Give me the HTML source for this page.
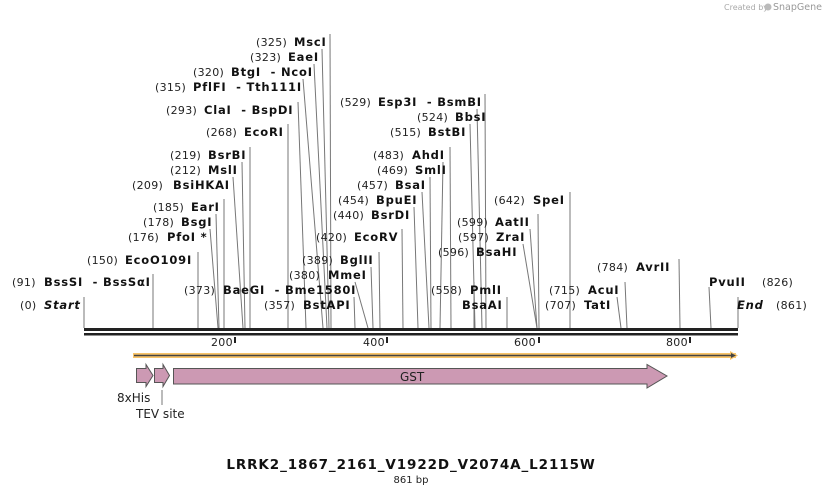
<!DOCTYPE html>
<html><head><meta charset="utf-8"><style>
html,body{margin:0;padding:0;background:#fff;}
svg{display:block;font-family:"DejaVu Sans","Liberation Sans",sans-serif;}
text{white-space:pre;}
.n{font-size:11px;fill:#222;letter-spacing:0.3px;}
.b{font-size:11.5px;font-weight:bold;fill:#111;letter-spacing:0.8px;}
.l{stroke:#777;stroke-width:1;fill:none;}
</style></head><body>
<svg width="822" height="495" viewBox="0 0 822 495" xmlns="http://www.w3.org/2000/svg" xml:space="preserve">
<text x="724" y="10" font-size="8" fill="#aaa">Created by</text>
<text x="773" y="10" font-size="9.5" fill="#999">SnapGene</text>
<circle cx="768" cy="7" r="3.5" fill="#bbb"/>
<g class="l">
<line x1="330" y1="34" x2="331" y2="328"/>
<line x1="322" y1="49" x2="329" y2="328"/>
<line x1="314" y1="64" x2="327" y2="328"/>
<line x1="303" y1="79" x2="323" y2="328"/>
<line x1="298" y1="102" x2="306" y2="328"/>
<line x1="288" y1="124" x2="288" y2="328"/>
<line x1="250" y1="147" x2="250" y2="328"/>
<line x1="242" y1="162" x2="245" y2="328"/>
<line x1="233" y1="177" x2="243" y2="328"/>
<line x1="224" y1="199" x2="224" y2="328"/>
<line x1="216" y1="214" x2="219" y2="328"/>
<line x1="210" y1="229" x2="218" y2="328"/>
<line x1="198" y1="252" x2="198" y2="328"/>
<line x1="153" y1="274" x2="153" y2="328"/>
<line x1="84" y1="297" x2="84" y2="328"/>
<line x1="355" y1="282" x2="368" y2="328"/>
<line x1="354" y1="297" x2="355" y2="328"/>
<line x1="371" y1="267" x2="373" y2="328"/>
<line x1="379" y1="252" x2="380" y2="328"/>
<line x1="402" y1="229" x2="403" y2="328"/>
<line x1="414" y1="207" x2="418" y2="328"/>
<line x1="422" y1="192" x2="429" y2="328"/>
<line x1="430" y1="177" x2="431" y2="328"/>
<line x1="443" y1="162" x2="440" y2="328"/>
<line x1="450" y1="147" x2="451" y2="328"/>
<line x1="470" y1="124" x2="475" y2="328"/>
<line x1="477" y1="109" x2="482" y2="328"/>
<line x1="485" y1="94" x2="486" y2="328"/>
<line x1="474" y1="282" x2="474" y2="328"/>
<line x1="507" y1="297" x2="507" y2="328"/>
<line x1="538" y1="214" x2="539" y2="328"/>
<line x1="530" y1="229" x2="537" y2="328"/>
<line x1="523" y1="244" x2="537" y2="328"/>
<line x1="570" y1="192" x2="570" y2="328"/>
<line x1="625" y1="282" x2="627" y2="328"/>
<line x1="617" y1="297" x2="621" y2="328"/>
<line x1="679" y1="259" x2="680" y2="328"/>
<line x1="709" y1="287" x2="711" y2="328"/>
<line x1="738" y1="297" x2="738" y2="328"/>
</g>
<g>
<text class="n" x="256" y="46">(325)</text><text class="b" x="294" y="46">MscI</text>
<text class="n" x="250" y="61">(323)</text><text class="b" x="288" y="61">EaeI</text>
<text class="n" x="193" y="76">(320)</text><text class="b" x="231" y="76">BtgI  - NcoI</text>
<text class="n" x="155" y="91">(315)</text><text class="b" x="193" y="91">PflFI  - Tth111I</text>
<text class="n" x="166" y="114">(293)</text><text class="b" x="204" y="114">ClaI  - BspDI</text>
<text class="n" x="206" y="136">(268)</text><text class="b" x="244" y="136">EcoRI</text>
<text class="n" x="170" y="159">(219)</text><text class="b" x="208" y="159">BsrBI</text>
<text class="n" x="170" y="174">(212)</text><text class="b" x="208" y="174">MslI</text>
<text class="n" x="132" y="189">(209)</text><text class="b" x="173" y="189">BsiHKAI</text>
<text class="n" x="153" y="211">(185)</text><text class="b" x="191" y="211">EarI</text>
<text class="n" x="143" y="226">(178)</text><text class="b" x="181" y="226">BsgI</text>
<text class="n" x="128" y="241">(176)</text><text class="b" x="167" y="241">PfoI *</text>
<text class="n" x="87" y="264">(150)</text><text class="b" x="125" y="264">EcoO109I</text>
<text class="n" x="12" y="286">(91)</text><text class="b" x="44" y="286">BssSI  - BssSαI</text>
<text class="n" x="20" y="309">(0)</text><text class="b" x="44" y="309" font-style="italic">Start</text>
<text class="n" x="184" y="294">(373)</text><text class="b" x="223" y="294">BaeGI  - Bme1580I</text>
<text class="n" x="264" y="309">(357)</text><text class="b" x="303" y="309">BstAPI</text>
<text class="n" x="289" y="279">(380)</text><text class="b" x="328" y="279">MmeI</text>
<text class="n" x="302" y="264">(389)</text><text class="b" x="340" y="264">BglII</text>
<text class="n" x="316" y="241">(420)</text><text class="b" x="354" y="241">EcoRV</text>
<text class="n" x="333" y="219">(440)</text><text class="b" x="371" y="219">BsrDI</text>
<text class="n" x="338" y="204">(454)</text><text class="b" x="376" y="204">BpuEI</text>
<text class="n" x="357" y="189">(457)</text><text class="b" x="395" y="189">BsaI</text>
<text class="n" x="377" y="174">(469)</text><text class="b" x="415" y="174">SmlI</text>
<text class="n" x="373" y="159">(483)</text><text class="b" x="412" y="159">AhdI</text>
<text class="n" x="390" y="136">(515)</text><text class="b" x="428" y="136">BstBI</text>
<text class="n" x="417" y="121">(524)</text><text class="b" x="455" y="121">BbsI</text>
<text class="n" x="340" y="106">(529)</text><text class="b" x="378" y="106">Esp3I  - BsmBI</text>
<text class="n" x="457" y="226">(599)</text><text class="b" x="495" y="226">AatII</text>
<text class="n" x="458" y="241">(597)</text><text class="b" x="496" y="241">ZraI</text>
<text class="n" x="438" y="256">(596)</text><text class="b" x="476" y="256">BsaHI</text>
<text class="n" x="494" y="204">(642)</text><text class="b" x="533" y="204">SpeI</text>
<text class="n" x="431" y="294">(558)</text><text class="b" x="470" y="294">PmlI</text>
<text class="b" x="462" y="309">BsaAI</text>
<text class="n" x="549" y="294">(715)</text><text class="b" x="588" y="294">AcuI</text>
<text class="n" x="545" y="309">(707)</text><text class="b" x="584" y="309">TatI</text>
<text class="n" x="597" y="271">(784)</text><text class="b" x="636" y="271">AvrII</text>
<text class="b" x="709" y="286">PvuII</text><text class="n" x="762" y="286">(826)</text>
<text class="b" x="737" y="309" font-style="italic">End</text><text class="n" x="776" y="309">(861)</text>
</g>
<rect x="84" y="328" width="654" height="3" fill="#222"/>
<rect x="84" y="333" width="654" height="2.5" fill="#222"/>
<g fill="#222">
<rect x="234" y="337" width="2" height="6"/><rect x="386" y="337" width="2" height="6"/>
<rect x="538" y="337" width="2" height="6"/><rect x="689" y="337" width="2" height="6"/>
</g>
<g class="n"><text x="211" y="346">200</text><text x="363" y="346">400</text><text x="514" y="346">600</text><text x="666" y="346">800</text></g>
<rect x="133" y="353" width="603" height="5" fill="#f8c46a"/>
<polygon points="730,351 738,355.5 730,360" fill="#f8c46a"/>
<line x1="134" y1="355.5" x2="734" y2="355.5" stroke="#444" stroke-width="1.5"/>
<polygon points="731,353 736,355.5 731,358" fill="#444"/>
<g fill="#cc99b3" stroke="#555" stroke-width="1">
<polygon points="136.5,368.5 146,368.5 146,364.5 153,375.5 146,386.5 146,382.5 136.5,382.5"/>
<polygon points="154.5,368.5 163,368.5 163,364.5 169.5,375.5 163,386.5 163,382.5 154.5,382.5"/>
<polygon points="173.5,368.5 647,368.5 647,364.5 667,376 647,388 647,384 173.5,384"/>
</g>
<text x="400" y="381" font-size="12" fill="#222">GST</text>
<line x1="162" y1="390" x2="162" y2="405" stroke="#777"/>
<text x="117" y="402" font-size="12" fill="#222">8xHis</text>
<text x="136" y="418" font-size="12" fill="#222">TEV site</text>
<text x="411" y="469" font-size="13.5" font-weight="bold" fill="#111" text-anchor="middle" letter-spacing="0.9">LRRK2_1867_2161_V1922D_V2074A_L2115W</text>
<text x="411" y="483" font-size="10" fill="#222" text-anchor="middle">861 bp</text>
</svg>
</body></html>
